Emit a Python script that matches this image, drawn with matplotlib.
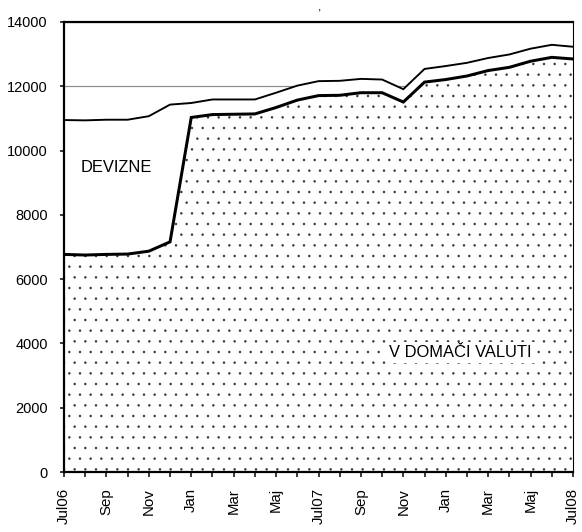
import matplotlib
matplotlib.use('Agg')
import matplotlib.pyplot as plt
import numpy as np

# ---- data ----
months = ['Jul06', 'Avg', 'Sep', 'Okt', 'Nov', 'Dec', 'Jan', 'Feb', 'Mar', 'Apr', 'Maj', 'Jun',
          'Jul07', 'Avg', 'Sep', 'Okt', 'Nov', 'Dec', 'Jan', 'Feb', 'Mar', 'Apr', 'Maj', 'Jun', 'Jul08']
total = [10950, 10940, 10960, 10960, 11070, 11430, 11480, 11590, 11590, 11590, 11800, 12020,
         12160, 12170, 12230, 12210, 11910, 12540, 12630, 12730, 12880, 12990, 13170, 13290, 13230]
domestic = [6770, 6750, 6770, 6780, 6870, 7160, 11030, 11120, 11130, 11140, 11340, 11570,
            11710, 11720, 11800, 11800, 11510, 12130, 12210, 12320, 12490, 12590, 12780, 12900, 12850]
y_ticks = [0, 2000, 4000, 6000, 8000, 10000, 12000, 14000]
label_foreign = 'DEVIZNE'
label_domestic = 'V DOMAČI VALUTI'

DPI = 64
W, H = 582, 532
def pt(px):
    return px * 72.0 / DPI

plt.rcParams['font.family'] = ['Liberation Sans', 'DejaVu Sans']
plt.rcParams['hatch.linewidth'] = 0.3

fig = plt.figure(figsize=(W / DPI, H / DPI), dpi=DPI)
left, right, top, bottom = 64, 573, 22, 472
ax = fig.add_axes([left / W, (H - bottom) / H, (right - left) / W, (bottom - top) / H])

x = np.arange(len(months))

# grid (hidden below fills except above upper line)
ax.set_yticks(y_ticks)
ax.yaxis.grid(True, color='#8c8c8c', linewidth=pt(1.2), zorder=0)
ax.set_axisbelow(True)

# fills
ax.fill_between(x, domestic, total, facecolor='white', edgecolor='none', linewidth=0, zorder=1)
ax.fill_between(x, 0, domestic, facecolor='white', edgecolor='#303030', hatch='.',
                linewidth=0, zorder=1)

# lines
ax.plot(x, total, color='black', linewidth=pt(1.9), zorder=3, solid_joinstyle='miter')
ax.plot(x, domestic, color='black', linewidth=pt(3.0), zorder=3, solid_joinstyle='miter')

ax.set_xlim(0, len(months) - 1)
ax.set_ylim(0, 14000)

# ticks
ax.set_xticks(x)
ax.set_xticklabels([m if i % 2 == 0 else '' for i, m in enumerate(months)], rotation=90)
ax.set_yticklabels([str(v) for v in y_ticks])
ax.tick_params(axis='x', direction='out', length=pt(5), width=pt(1.5), pad=pt(11),
               labelsize=pt(15), colors='black')
ax.tick_params(axis='y', direction='out', length=pt(4.5), width=pt(1.5), pad=pt(12),
               labelsize=pt(14.5), colors='black')

for s in ['left', 'bottom', 'top']:
    ax.spines[s].set_linewidth(pt(2.2))
ax.spines['right'].set_linewidth(pt(1.1))
for s in ax.spines.values():
    s.set_zorder(4)

# labels
ax.text(2.45, 9460, label_foreign, fontsize=pt(16.5), ha='center', va='center', zorder=5)
ax.text(18.7, 3730, label_domestic, fontsize=pt(16.5), ha='center', va='center', zorder=5,
        bbox=dict(facecolor='white', edgecolor='none', pad=pt(3)))

# title fragment (comma visible at the top in the reference)
fig.text(320 / W, 1.0 - 1.0 / H, ',', fontsize=pt(12), ha='center', va='top')

fig.savefig('out.png', dpi=DPI)
